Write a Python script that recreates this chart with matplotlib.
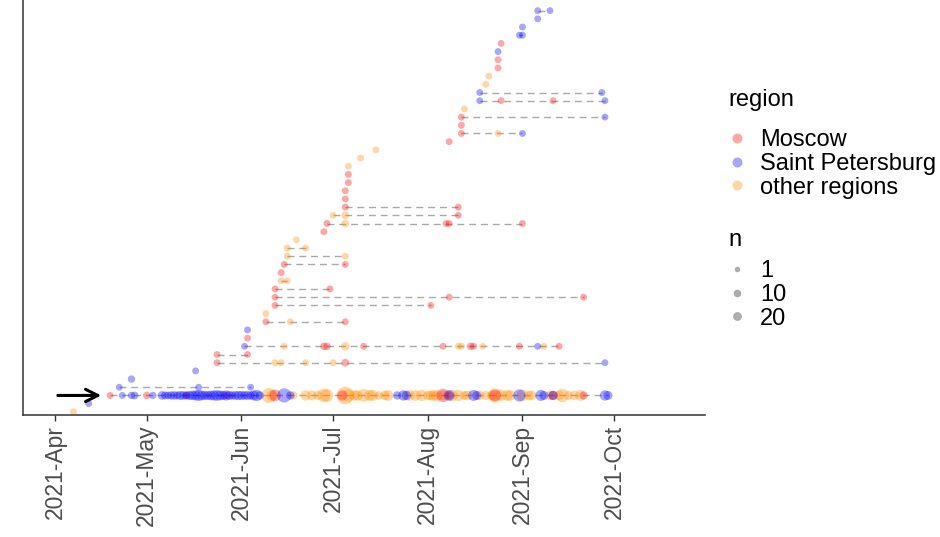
import matplotlib
matplotlib.use('Agg')
import matplotlib.pyplot as plt
import matplotlib.dates as mdates
from matplotlib.lines import Line2D
import numpy as np
import pandas as pd

plt.rcParams['font.family'] = ['Liberation Sans', 'DejaVu Sans']

# region code -> legend name / colour
region_names = {'M': 'Moscow', 'S': 'Saint Petersburg', 'O': 'other regions'}
region_colors = {'M': 'red', 'S': 'blue', 'O': 'darkorange'}

# the big lineage (arrow row)
main_row = 3
main_dates = ['2021-04-19', '2021-04-23', '2021-04-26', '2021-04-27', '2021-05-01', '2021-05-03', '2021-05-06',
              '2021-05-07', '2021-05-08', '2021-05-09', '2021-05-10', '2021-05-11', '2021-05-12', '2021-05-13',
              '2021-05-14', '2021-05-14', '2021-05-15', '2021-05-16', '2021-05-17', '2021-05-18', '2021-05-19',
              '2021-05-20', '2021-05-21', '2021-05-22', '2021-05-23', '2021-05-24', '2021-05-25', '2021-05-26',
              '2021-05-27', '2021-05-27', '2021-05-28', '2021-05-29', '2021-05-30', '2021-05-31', '2021-06-01',
              '2021-06-02', '2021-06-03', '2021-06-04', '2021-06-05', '2021-06-06', '2021-06-07',
              '2021-06-10', '2021-06-11', '2021-06-12', '2021-06-15', '2021-06-17', '2021-06-18', '2021-06-22',
              '2021-06-24', '2021-06-26', '2021-06-28', '2021-06-29', '2021-07-04', '2021-07-05', '2021-07-06',
              '2021-07-08', '2021-07-09', '2021-07-11', '2021-07-13', '2021-07-14', '2021-07-16', '2021-07-18',
              '2021-07-19', '2021-07-22', '2021-07-24', '2021-07-25', '2021-07-26', '2021-07-28', '2021-07-30',
              '2021-08-01', '2021-08-02', '2021-08-03', '2021-08-04', '2021-08-06', '2021-08-06', '2021-08-08',
              '2021-08-08', '2021-08-09', '2021-08-11', '2021-08-13', '2021-08-14', '2021-08-16', '2021-08-17',
              '2021-08-18', '2021-08-20', '2021-08-22', '2021-08-23', '2021-08-23', '2021-08-25', '2021-08-27',
              '2021-08-28', '2021-08-31', '2021-09-01', '2021-09-03', '2021-09-04', '2021-09-07', '2021-09-08',
              '2021-09-10', '2021-09-11', '2021-09-11', '2021-09-13', '2021-09-14', '2021-09-16', '2021-09-18',
              '2021-09-20', '2021-09-21', '2021-09-28', '2021-09-29']
main_regions = ['M', 'S', 'S', 'S', 'M', 'S', 'S',
                'S', 'S', 'S', 'S', 'S', 'S', 'S',
                'S', 'M', 'S', 'S', 'S', 'S', 'S',
                'S', 'S', 'S', 'S', 'S', 'S', 'S',
                'S', 'M', 'S', 'S', 'S', 'S', 'S',
                'S', 'S', 'S', 'S', 'S', 'S',
                'O', 'O', 'M', 'S', 'S', 'O', 'O',
                'O', 'O', 'O', 'O', 'M', 'O', 'O',
                'O', 'O', 'O', 'O', 'O', 'O', 'O',
                'O', 'S', 'S', 'S', 'O', 'O', 'O',
                'O', 'O', 'O', 'O', 'M', 'O', 'S',
                'M', 'O', 'O', 'O', 'O', 'S', 'S',
                'O', 'O', 'O', 'M', 'O', 'O', 'O',
                'O', 'S', 'O', 'O', 'O', 'S', 'S',
                'O', 'M', 'S', 'O', 'O', 'O', 'O',
                'O', 'M', 'S', 'S']
main_n = [1, 1, 2, 3, 2, 2, 6,
          4, 3, 5, 6, 4, 8, 6,
          5, 2, 8, 10, 14, 20, 12,
          9, 8, 11, 14, 18, 12, 9,
          14, 2, 8, 5, 7, 9, 8,
          6, 8, 5, 12, 22, 5,
          60, 20, 25, 50, 5, 5, 15,
          12, 10, 40, 35, 15, 100, 30,
          15, 15, 35, 20, 20, 6, 10,
          18, 5, 15, 10, 18, 18, 22,
          10, 12, 18, 18, 40, 12, 18,
          5, 25, 22, 8, 12, 20, 8,
          10, 8, 10, 25, 50, 22, 18,
          18, 30, 25, 10, 12, 20, 8,
          10, 10, 8, 12, 40, 8, 10,
          18, 5, 15, 8]

# all other lineages
other_rows = [1, 2, 4, 4, 4, 5, 6,
              7, 7, 7, 7, 7, 7, 7,
              8, 8,
              9, 9, 9, 9, 9, 9, 9, 9, 9, 9, 9, 9, 9, 9, 9, 9,
              10, 11, 12, 12, 12, 13, 14, 14, 15, 15, 15, 16, 16, 17, 17, 18,
              19, 19, 20, 20, 21, 21, 22, 23,
              24, 24, 24, 24, 24, 25, 25, 25, 26, 26, 27, 28, 29, 30, 31, 32, 33, 34,
              35, 35, 35, 36, 37, 37, 38, 39, 39, 39, 39, 40, 40,
              41, 42, 43, 44, 45, 46, 47, 47, 48, 49, 50, 50]
other_dates = ['2021-04-07', '2021-04-12', '2021-04-22', '2021-05-18', '2021-06-04', '2021-04-26', '2021-05-17',
               '2021-05-24', '2021-06-12', '2021-06-14', '2021-06-22', '2021-07-01', '2021-07-05', '2021-09-28',
               '2021-05-24', '2021-06-03',
               '2021-06-02', '2021-06-15', '2021-06-28', '2021-06-29', '2021-07-05', '2021-07-11', '2021-08-06',
               '2021-08-11', '2021-08-12', '2021-08-15', '2021-08-16', '2021-08-19', '2021-08-31', '2021-09-06',
               '2021-09-08', '2021-09-13',
               '2021-06-03', '2021-06-03', '2021-06-09', '2021-06-17', '2021-07-05', '2021-06-09', '2021-06-12',
               '2021-08-02', '2021-06-12', '2021-08-08', '2021-09-21', '2021-06-12', '2021-06-30', '2021-06-14',
               '2021-06-16', '2021-06-14',
               '2021-06-15', '2021-07-05', '2021-06-16', '2021-07-05', '2021-06-16', '2021-06-22', '2021-06-19',
               '2021-06-28',
               '2021-06-29', '2021-07-05', '2021-08-07', '2021-08-08', '2021-09-01', '2021-07-01', '2021-07-05',
               '2021-08-11', '2021-07-05', '2021-08-11', '2021-07-05', '2021-07-05', '2021-07-06', '2021-07-06',
               '2021-07-06', '2021-07-10', '2021-07-15', '2021-08-08',
               '2021-08-12', '2021-08-24', '2021-09-01', '2021-08-12', '2021-08-12', '2021-09-28', '2021-08-13',
               '2021-08-18', '2021-08-25', '2021-09-11', '2021-09-28', '2021-08-18', '2021-09-27',
               '2021-08-20', '2021-08-21', '2021-08-24', '2021-08-24', '2021-08-24', '2021-08-25', '2021-08-31',
               '2021-09-01', '2021-09-01', '2021-09-06', '2021-09-06', '2021-09-10']
other_regions = ['O', 'S', 'S', 'S', 'S', 'S', 'S',
                 'M', 'O', 'O', 'O', 'O', 'M', 'S',
                 'M', 'M',
                 'S', 'O', 'M', 'M', 'O', 'M', 'M', 'O', 'O', 'M', 'M', 'O', 'M', 'S', 'O', 'M',
                 'M', 'S', 'M', 'O', 'M', 'O', 'M', 'M', 'M', 'M', 'M', 'M', 'M', 'O', 'O', 'M',
                 'M', 'M', 'O', 'O', 'O', 'O', 'O', 'M',
                 'M', 'O', 'M', 'M', 'M', 'O', 'O', 'M', 'M', 'M', 'M', 'M', 'M', 'M', 'O', 'O', 'O', 'M',
                 'M', 'O', 'S', 'M', 'M', 'S', 'O', 'S', 'M', 'M', 'S', 'S', 'S',
                 'O', 'O', 'M', 'M', 'S', 'M', 'S', 'S', 'S', 'S', 'S', 'S']
other_n = [1, 1, 1, 1, 1, 2, 1,
           1, 1, 1, 1, 1, 3, 1,
           1, 1,
           1, 1, 2, 2, 5, 1, 1, 1, 1, 2, 1, 1, 1, 1, 1, 1,
           1, 1, 1, 1, 1, 1, 1, 1, 1, 1, 1, 1, 1, 1, 1, 1,
           1, 1, 1, 1, 1, 1, 1, 1,
           1, 3, 1, 1, 1, 1, 3, 1, 1, 1, 1, 1, 1, 1, 1, 1, 1, 1,
           1, 1, 1, 1, 1, 1, 1, 1, 1, 1, 1, 1, 1,
           1, 1, 1, 1, 1, 1, 1, 1, 1, 1, 1, 1]

x_ticks = ['2021-04-01', '2021-05-01', '2021-06-01', '2021-07-01', '2021-08-01', '2021-09-01', '2021-10-01']
n_breaks = [1, 10, 20]

ALPHA = 0.35


def diam_px(n):
    # marker diameter grows with sqrt(n)
    return 5.7 + 1.2 * np.sqrt(n)


def size_for(n):
    return (diam_px(n) * 72 / 100) ** 2


df = pd.concat([
    pd.DataFrame({'row': main_row, 'date': pd.to_datetime(main_dates),
                  'region': main_regions, 'n': main_n}),
    pd.DataFrame({'row': other_rows, 'date': pd.to_datetime(other_dates),
                  'region': other_regions, 'n': other_n}),
], ignore_index=True)

fig = plt.figure(figsize=(9.4, 5.37), dpi=100)
ax = fig.add_axes([0.0245, 0.227, 0.7255, 0.773])

# dashed span for each lineage
for row, grp in df.groupby('row'):
    if len(grp) > 1:
        ax.plot([grp['date'].min(), grp['date'].max()], [row, row],
                color='#aaaaaa', lw=1, ls=(0, (5, 3.5)), zorder=1)

for code in ['O', 'M', 'S']:
    sub = df[df['region'] == code]
    ax.scatter(sub['date'], sub['row'], s=size_for(sub['n'].values),
               color=region_colors[code], alpha=ALPHA, linewidths=0, zorder=2)

# arrow pointing at the big lineage
ax.annotate('', xy=(pd.Timestamp('2021-04-17'), main_row),
            xytext=(pd.Timestamp('2021-04-01'), main_row),
            arrowprops=dict(arrowstyle='->', color='black', lw=2.2, mutation_scale=22))

ax.set_xlim(pd.Timestamp('2021-03-21 12:00'), pd.Timestamp('2021-10-30 18:00'))
ax.set_ylim(0.6, 51.3)
ax.set_xticks(pd.to_datetime(x_ticks))
ax.xaxis.set_major_formatter(mdates.DateFormatter('%Y-%b'))
ax.tick_params(axis='x', labelrotation=90, labelsize=16.5, labelcolor='#4d4d4d',
               color='#333333', length=4, width=1, pad=3)
ax.set_yticks([])
for side in ['top', 'right']:
    ax.spines[side].set_visible(False)
for side in ['left', 'bottom']:
    ax.spines[side].set_color('#333333')
    ax.spines[side].set_linewidth(1.1)

# legends (titles placed as separate text so the gap matches)
fig.text(728 / 940, 1 - 100 / 537, 'region', fontsize=17, va='center', ha='left')
region_handles = [Line2D([], [], ls='', marker='o', markersize=7.2, markeredgewidth=0,
                         color=region_colors[c], alpha=ALPHA, label=region_names[c])
                  for c in ['M', 'S', 'O']]
fig.legend(handles=region_handles, loc='center left',
           bbox_to_anchor=(0.7745, 1 - 164 / 537), frameon=False, fontsize=17,
           handlelength=0.8, handletextpad=0.55, labelspacing=0.07,
           borderaxespad=0, borderpad=0)

fig.text(728 / 940, 1 - 240 / 537, 'n', fontsize=17, va='center', ha='left')
n_handles = [Line2D([], [], ls='', marker='o', markeredgewidth=0,
                    markersize=diam_px(v) * 0.72 * 0.8, color='black', alpha=0.32, label=str(v))
             for v in n_breaks]
fig.legend(handles=n_handles, loc='center left',
           bbox_to_anchor=(0.7745, 1 - 295 / 537), frameon=False, fontsize=17,
           handlelength=0.8, handletextpad=0.55, labelspacing=0.07,
           borderaxespad=0, borderpad=0)

fig.savefig('out.png', dpi=100)
